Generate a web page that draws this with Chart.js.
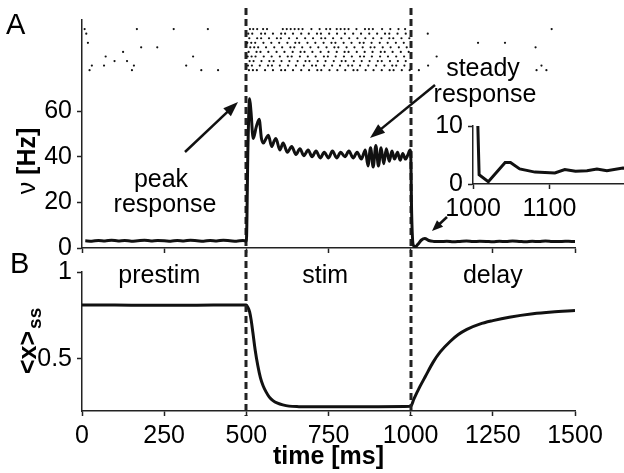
<!DOCTYPE html>
<html>
<head>
<meta charset="utf-8">
<script src="https://cdn.jsdelivr.net/npm/chart.js@4.4.1/dist/chart.umd.min.js"></script>
<style>
html, body { margin: 0; padding: 0; background: #fff; overflow: hidden; }
#wrap { position: relative; width: 624px; height: 473px; overflow: hidden; }
canvas { position: absolute; left: 0; top: 0; }
</style>
</head>
<body>
<div id="wrap">
  <canvas id="panelB" width="624" height="473"></canvas>
  <canvas id="panelA" width="624" height="473"></canvas>
  <canvas id="inset" width="640" height="473"></canvas>
</div>
<script>
// ---- values ----
const timeTicks = [0, 250, 500, 750, 1000, 1250, 1500];
const rateTicks = [0, 20, 40, 60];
const resTicks = [0.5, 1];
const insetTimeTicks = [1000, 1100];
const insetRateTicks = [0, 10];
const stimOn = 500, stimOff = 1000;
const phaseNames = ['prestim', 'stim', 'delay'];
const phaseLabelTimes = [235, 740, 1250];

// population rate (Hz)
const rateTime = [10, 30, 50, 70, 90, 110, 130, 150, 170, 190, 210, 230, 250, 270, 290, 310, 330, 350, 370, 390, 410, 430, 450, 470, 490, 500,
  505, 510, 514, 521, 530, 539, 546, 552, 560, 567, 577, 585, 590, 602, 612, 625, 638, 651, 663, 675, 688, 700, 712, 725, 737, 750,
  762, 775, 787, 800, 812, 825, 837, 850, 862, 870, 878, 886, 894, 902, 910, 918, 926, 935, 943, 951, 960, 968, 976, 984, 992, 998, 1000,
  1003, 1008, 1015, 1022, 1032, 1043, 1055, 1070, 1090, 1110, 1130, 1150, 1170, 1190, 1210, 1230, 1250, 1270, 1290, 1310, 1330,
  1350, 1370, 1390, 1410, 1430, 1450, 1470, 1490, 1500];
const rateHz = [3.2, 3.0, 3.3, 3.1, 3.4, 3.1, 3.3, 3.0, 3.2, 3.4, 3.1, 3.3, 3.2, 3.0, 3.3, 3.1, 3.4, 3.2, 3.0, 3.3, 3.1, 3.4, 3.2, 3.0, 3.3, 3.0,
  45, 65.5, 60, 48, 53, 56.5, 48, 46, 48, 49.5, 44.5, 47, 48, 43, 46, 42, 44.5, 41, 43.5, 40.5, 43, 40, 42.5, 39.5, 42, 39.5,
  42.5, 39.5, 42, 40, 42.5, 39.5, 42, 39, 43, 36, 44, 35.5, 45, 36, 44, 37, 43.5, 38, 42.5, 39, 42, 38.5, 41.5, 39, 41, 43, 42,
  15, 1.2, 0.6, 1.6, 3.4, 4.2, 3.3, 2.9, 2.8, 3.0, 2.7, 2.9, 3.1, 2.8, 3.0, 2.9, 2.7, 3.0, 2.8, 3.1, 2.9,
  2.7, 3.0, 2.8, 3.1, 2.9, 2.8, 3.0, 2.9, 2.9];

// mean resource level <x>ss
const resTime = [0, 100, 200, 300, 400, 500, 505, 510, 515, 520, 527, 535, 543, 551, 560, 570, 581, 595, 611, 630, 660, 700, 800, 900, 1000,
  1010, 1028, 1045, 1068, 1090, 1120, 1145, 1171, 1210, 1250, 1300, 1372, 1430, 1500];
const resValue = [0.81, 0.81, 0.808, 0.808, 0.81, 0.81, 0.795, 0.77, 0.72, 0.65, 0.55, 0.46, 0.39, 0.345, 0.31, 0.28, 0.26, 0.245, 0.235, 0.228, 0.225, 0.224, 0.224, 0.225, 0.227,
  0.27, 0.34, 0.40, 0.48, 0.54, 0.60, 0.64, 0.67, 0.70, 0.72, 0.74, 0.76, 0.77, 0.778];

// inset: rate just after stimulus offset
const insetTime = [1000, 1008, 1020, 1042, 1049, 1061, 1081, 1107, 1120, 1134, 1149, 1162, 1175, 1196, 1200];
const insetHz = [42, 1.6, 0.4, 3.7, 3.7, 2.6, 2.05, 1.9, 2.5, 2.2, 2.3, 2.6, 2.3, 2.75, 2.7];

// spike raster, one list of spike times (ms) per trial
const spikeTimes = [
  [8, 167, 279, 383, 511, 521, 533, 551, 563, 611, 623, 635, 647, 659, 671, 698, 723, 743, 755, 775, 787, 799, 811, 835, 861, 873, 885, 913, 938, 963, 983, 1429],
  [13, 506, 518, 545, 557, 581, 606, 618, 642, 667, 690, 715, 727, 752, 776, 800, 825, 849, 874, 898, 922, 935, 960, 985, 1052],
  [509, 533, 545, 569, 593, 605, 630, 654, 679, 703, 728, 740, 764, 789, 813, 838, 862, 886, 911, 935, 947, 972, 996],
  [18, 503, 515, 527, 552, 576, 600, 625, 649, 661, 686, 710, 735, 759, 771, 796, 820, 845, 857, 881, 906, 930, 955, 979, 1205, 1287],
  [180, 229, 512, 524, 536, 560, 585, 609, 634, 646, 670, 695, 719, 744, 768, 780, 805, 829, 854, 878, 890, 915, 939, 964, 988, 1380],
  [125, 507, 531, 543, 567, 592, 616, 641, 665, 677, 701, 726, 750, 775, 799, 811, 836, 860, 884, 909, 921, 945, 970, 994],
  [72, 338, 504, 516, 528, 553, 577, 602, 626, 638, 663, 687, 711, 736, 748, 772, 797, 821, 846, 858, 882, 907, 931, 956, 980, 1079],
  [99, 137, 510, 522, 546, 570, 583, 607, 631, 656, 680, 692, 717, 741, 766, 790, 802, 827, 851, 875, 900, 912, 937, 961, 985],
  [30, 67, 158, 317, 505, 517, 541, 566, 578, 602, 627, 651, 675, 700, 712, 737, 761, 785, 810, 822, 846, 871, 895, 920, 944, 956, 981, 1053, 1398],
  [23, 152, 363, 414, 508, 520, 532, 557, 581, 606, 618, 642, 667, 691, 716, 728, 753, 777, 801, 826, 838, 863, 887, 912, 936, 948, 973, 997, 1025, 1383, 1413]
];

// ---- chart setup ----
const FAMILY = "'Liberation Sans', Arial, Helvetica, sans-serif";
const INK = '#111';
Chart.defaults.font.family = FAMILY;
Chart.defaults.font.size = 25;
Chart.defaults.color = '#000';
Chart.defaults.animation = false;
Chart.defaults.events = [];
Chart.defaults.plugins.legend.display = false;
Chart.defaults.plugins.tooltip.enabled = false;

function zip(xs, ys) { return xs.map((x, i) => ({ x: x, y: ys[i] })); }
function fixWidth(w) { return s => { s.width = w; }; }
function fixHeight(h) { return s => { s.height = h; }; }
function onlyTicks(vals) { return s => { s.ticks = vals.map(v => ({ value: v })); }; }

function axis(extra) {
  return Object.assign({
    type: 'linear',
    grid: { drawOnChartArea: false, drawTicks: true, tickLength: 5, color: '#222', tickColor: '#222', tickWidth: 1.5 },
    border: { display: true, color: '#222', width: 1.5 },
    ticks: { padding: 5, color: '#000', font: { size: 25 }, callback: v => String(v) }
  }, extra);
}

function arrow(ctx, x1, y1, x2, y2, len, half) {
  const a = Math.atan2(y2 - y1, x2 - x1);
  const c = Math.cos(a), s = Math.sin(a);
  ctx.beginPath();
  ctx.moveTo(x1, y1);
  ctx.lineTo(x2 - len * 0.7 * c, y2 - len * 0.7 * s);
  ctx.stroke();
  ctx.beginPath();
  ctx.moveTo(x2, y2);
  ctx.lineTo(x2 - len * c + half * s, y2 - len * s - half * c);
  ctx.lineTo(x2 - len * c - half * s, y2 - len * s + half * c);
  ctx.closePath();
  ctx.fill();
}

const spikePoints = [];
spikeTimes.forEach((row, k) => row.forEach(t => spikePoints.push({ x: t, y: k + 1 })));

// top panel extras: stimulus markers, panel letters, axis names, annotations
const panelAExtras = {
  id: 'panelAExtras',
  beforeDatasetsDraw(chart) {
    const ctx = chart.ctx, xs = chart.scales.x;
    ctx.save();
    ctx.strokeStyle = '#222';
    ctx.lineWidth = 3;
    ctx.setLineDash([7, 4]);
    [stimOn, stimOff].forEach(t => {
      const px = Math.round(xs.getPixelForValue(t));
      ctx.beginPath();
      ctx.moveTo(px, 8);
      ctx.lineTo(px, 416);
      ctx.stroke();
    });
    ctx.restore();
  },
  afterDraw(chart) {
    const ctx = chart.ctx;
    ctx.save();
    ctx.fillStyle = '#000';
    ctx.strokeStyle = INK;
    ctx.textBaseline = 'alphabetic';
    ctx.font = '29px ' + FAMILY;
    ctx.textAlign = 'left';
    ctx.fillText('A', 6, 34);
    ctx.fillText('B', 10, 273);

    ctx.font = '25px ' + FAMILY;
    ctx.textAlign = 'center';
    ctx.fillText('peak', 161, 187);
    ctx.fillText('response', 165, 212);
    ctx.fillText('steady', 483, 76);
    ctx.fillText('response', 485, 102);

    ctx.lineWidth = 2.5;
    ctx.fillStyle = INK;
    arrow(ctx, 185, 152, 238, 102, 15, 5.5);
    arrow(ctx, 435, 85, 370, 138, 15, 5.5);
    arrow(ctx, 447, 217, 432, 231, 11, 4.5);

    // y axis names, rotated
    ctx.fillStyle = '#000';
    ctx.save();
    ctx.translate(35, 161);
    ctx.rotate(-Math.PI / 2);
    ctx.textAlign = 'left';
    const reg = '25px ' + FAMILY, bold = 'bold 25px ' + FAMILY;
    ctx.font = reg;
    const w1 = ctx.measureText('\u03bd ').width;
    ctx.font = bold;
    const w2 = ctx.measureText('[Hz]').width;
    ctx.font = reg;
    ctx.fillText('\u03bd ', -(w1 + w2) / 2, 0);
    ctx.font = bold;
    ctx.fillText('[Hz]', -(w1 + w2) / 2 + w1, 0);
    ctx.restore();

    ctx.save();
    ctx.translate(36, 374);
    ctx.rotate(-Math.PI / 2);
    ctx.textAlign = 'left';
    ctx.font = bold;
    ctx.fillText('<x>', 0, 0);
    const w3 = ctx.measureText('<x>').width;
    ctx.font = 'bold 19px ' + FAMILY;
    ctx.fillText('ss', w3 + 2, 5);
    ctx.restore();

    ctx.restore();
  }
};

new Chart(document.getElementById('panelA'), {
  type: 'line',
  data: {
    datasets: [
      { type: 'scatter', data: spikePoints, yAxisID: 'trial', pointRadius: 1.1, pointBorderWidth: 0,
        pointBackgroundColor: INK, showLine: false },
      { data: zip(rateTime, rateHz), yAxisID: 'y', borderColor: INK, borderWidth: 3, pointRadius: 0,
        cubicInterpolationMode: 'monotone' }
    ]
  },
  options: {
    responsive: false,
    devicePixelRatio: 1,
    layout: { padding: { left: 30, right: 49, top: 18, bottom: 215 } },
    scales: {
      x: axis({ min: 0, max: 1500, afterBuildTicks: onlyTicks(timeTicks), afterFit: fixHeight(10),
        ticks: { display: false } }),
      y: axis({ min: 0, max: 100, afterBuildTicks: onlyTicks(rateTicks), afterFit: fixWidth(52) }),
      trial: { type: 'linear', display: false, min: -1, max: 49, reverse: true }
    }
  },
  plugins: [panelAExtras]
});

// bottom panel extras: phase names
const panelBExtras = {
  id: 'panelBExtras',
  afterDraw(chart) {
    const ctx = chart.ctx, xs = chart.scales.x;
    ctx.save();
    ctx.fillStyle = '#000';
    ctx.font = '25px ' + FAMILY;
    ctx.textAlign = 'center';
    ctx.textBaseline = 'alphabetic';
    phaseNames.forEach((name, i) => {
      ctx.fillText(name, xs.getPixelForValue(phaseLabelTimes[i]), chart.chartArea.top + 11);
    });
    ctx.restore();
  }
};

new Chart(document.getElementById('panelB'), {
  type: 'line',
  data: {
    datasets: [
      { data: zip(resTime, resValue), borderColor: INK, borderWidth: 3, pointRadius: 0,
        cubicInterpolationMode: 'monotone' }
    ]
  },
  options: {
    responsive: false,
    devicePixelRatio: 1,
    layout: { padding: { left: 30, right: 49, top: 272, bottom: 0 } },
    scales: {
      x: axis({ min: 0, max: 1500, afterBuildTicks: onlyTicks(timeTicks), afterFit: fixHeight(62),
        title: { display: true, text: 'time [ms]', color: '#000', font: { size: 25, weight: 'bold' },
          padding: { top: 0, bottom: 1 } } }),
      y: axis({ min: 0.2, max: 1, afterBuildTicks: onlyTicks(resTicks), afterFit: fixWidth(52) })
    }
  },
  plugins: [panelBExtras]
});

new Chart(document.getElementById('inset'), {
  type: 'line',
  data: {
    datasets: [
      { data: zip(insetTime, insetHz), borderColor: INK, borderWidth: 3, pointRadius: 0, tension: 0 }
    ]
  },
  options: {
    responsive: false,
    devicePixelRatio: 1,
    layout: { padding: { left: 421, right: 14, top: 126, bottom: 249 } },
    scales: {
      x: axis({ min: 1000, max: 1200, afterBuildTicks: onlyTicks(insetTimeTicks), afterFit: fixHeight(40) }),
      y: axis({ min: 0, max: 10, afterBuildTicks: onlyTicks(insetRateTicks), afterFit: fixWidth(52) })
    }
  }
});
</script>
</body>
</html>
